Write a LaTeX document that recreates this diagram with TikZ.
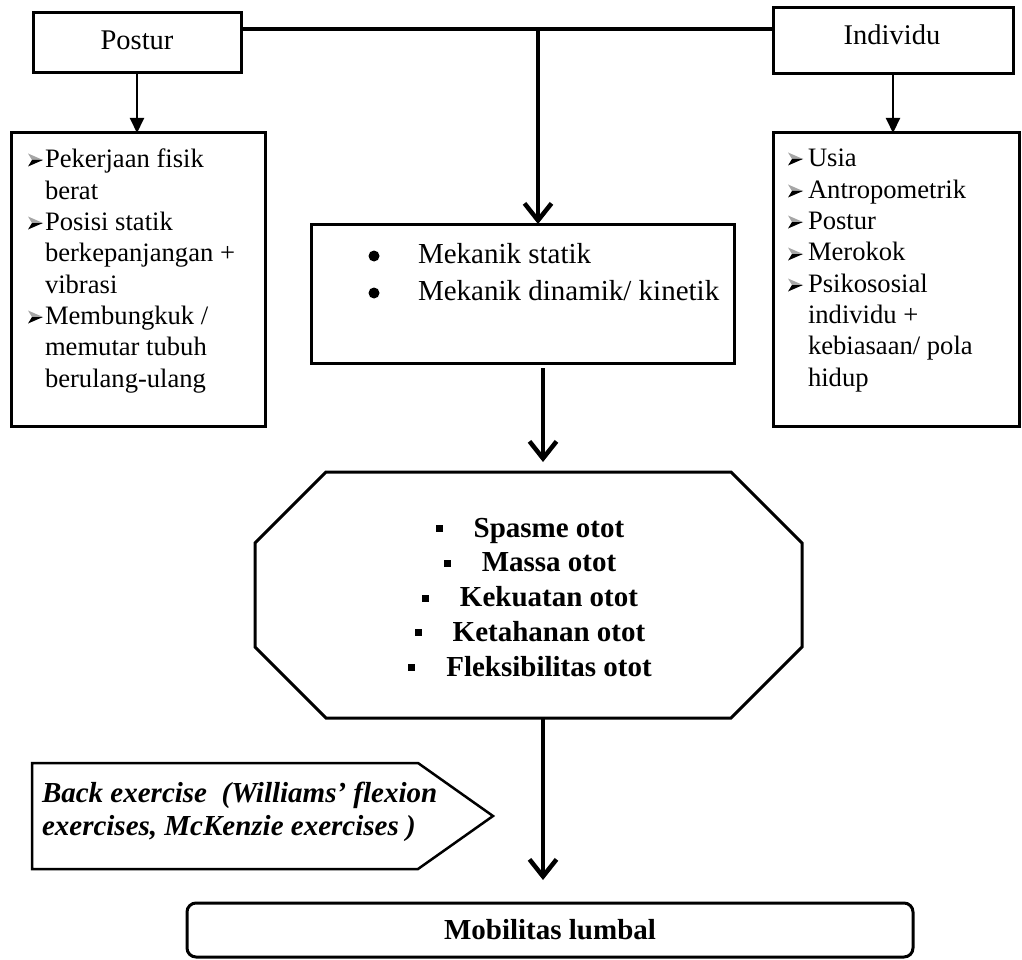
\documentclass[tikz,border=0pt]{standalone}
\usepackage{fontspec}
\setmainfont{Liberation Serif}
\usetikzlibrary{arrows.meta,calc}
\newcommand{\mysq}{\rule[5pt]{7pt}{7pt}\hspace{31pt}}
\begin{document}
\begin{tikzpicture}[x=1pt,y=-1pt,
  box/.style={draw, line width=3pt, inner sep=0pt, outer sep=0pt},
  holder/.style={inner sep=0pt, outer sep=0pt},
  thinarr/.style={line width=2pt, -{Triangle[length=15pt,width=14pt]}},
  bigarr/.style={line width=4.5pt, -{Straight Barb[length=17pt,width=27pt]}},
  thickline/.style={line width=4.5pt},
  txt/.style={inner sep=0pt, outer sep=0pt},
  regtext/.style={font=\fontsize{26.6}{31.3}\selectfont},
  arrbul/.pic={
    \fill[black!35] (0,-6.5) -- (15,0) -- (4,0) -- cycle;
    \fill[black] (0,6.5) -- (15,0) -- (4,0) -- cycle;
  }
]
\useasboundingbox (0,0) rectangle (1022,960);
\fill[white] (0,0) rectangle (1022,960);

% boxes
\node[box, minimum width=208pt, minimum height=60pt] (postur) at (137,43) {};
\node[txt, anchor=base, font=\fontsize{28.5}{34}\selectfont] (posturT) at (137,50) {Postur};
\node[box, minimum width=240pt, minimum height=66pt] (indiv) at (893,41) {};
\node[txt, anchor=base, font=\fontsize{28.5}{34}\selectfont] (indivT) at (892,45) {Individu};

\node[box, minimum width=254pt, minimum height=293pt] (lbox) at (138,279.5) {};
\node[box, minimum width=246pt, minimum height=293pt] (rbox) at (896,279.5) {};
\node[box, minimum width=423pt, minimum height=139pt] (mid) at (522.5,293.5) {};

% octagon
\node[holder, minimum width=547pt, minimum height=246pt] (oct) at (528.5,595) {};
\draw[line width=3pt]
  ($(oct.north west)+(71,0)$) -- ($(oct.north east)+(-71,0)$) --
  ($(oct.north east)+(0,71)$) -- ($(oct.south east)+(0,-71)$) --
  ($(oct.south east)+(-71,0)$) -- ($(oct.south west)+(71,0)$) --
  ($(oct.south west)+(0,-71)$) -- ($(oct.north west)+(0,71)$) -- cycle;

% back exercise pentagon
\node[holder, minimum width=461pt, minimum height=106pt] (bex) at (262.5,816) {};
\draw[line width=2.5pt] (bex.north west) -- ($(bex.north east)+(-75,0)$) -- (bex.east)
  -- ($(bex.south east)+(-75,0)$) -- (bex.south west) -- cycle;

% bottom box
\node[box, rounded corners=9pt, minimum width=726pt, minimum height=54pt,
  font=\fontsize{29}{34}\selectfont\bfseries] (mob) at (550,930) {Mobilitas lumbal};

% connectors
\coordinate (j) at (538,29);
\coordinate (k) at (543,0);
\draw[thickline] (postur.east |- j) -- (indiv.west |- j);
\draw[bigarr] (j) -- (j |- mid.north);
\draw[thinarr] (postur.south) -- (postur.south |- lbox.north);
\draw[thinarr] (indiv.south) -- (indiv.south |- rbox.north);
\draw[bigarr, shorten <=5pt, shorten >=10pt] (k |- mid.south) -- (k |- oct.north);
\draw[bigarr, shorten >=23pt] (k |- oct.south) -- (k |- mob.north);

% left box text
\node[txt, anchor=base west, regtext] (lT) at (45,168) {\begin{tabular}[t]{@{}l@{}}
Pekerjaan fisik\\ berat\\ Posisi statik\\ berkepanjangan +\\ vibrasi\\
Membungkuk /\\ memutar tubuh\\ berulang-ulang\end{tabular}};
\path (28,160) pic {arrbul};
\path (28,223) pic {arrbul};
\path (28,317) pic {arrbul};

% right box text
\node[txt, anchor=base west, regtext] (rT) at (808,167) {\begin{tabular}[t]{@{}l@{}}
Usia\\ Antropometrik\\ Postur\\ Merokok\\ Psikososial\\ individu +\\
kebiasaan/ pola\\ hidup\end{tabular}};
\path (788,159) pic {arrbul};
\path (788,191) pic {arrbul};
\path (788,222) pic {arrbul};
\path (788,254) pic {arrbul};
\path (788,285) pic {arrbul};

% middle box text
\node[txt, anchor=base west, font=\fontsize{29}{37}\selectfont] (mT) at (418,263) {\begin{tabular}[t]{@{}l@{}}
Mekanik statik\\ Mekanik dinamik/ kinetik\end{tabular}};
\fill (374,256) circle (5.5pt);
\fill (374,293) circle (5.5pt);

% octagon text
\node[txt, anchor=base, font=\fontsize{29}{34.8}\selectfont\bfseries] (oT) at (530,537) {\begin{tabular}[t]{@{}c@{}}
\mysq Spasme otot\\ \mysq Massa otot\\ \mysq Kekuatan otot\\ \mysq Ketahanan otot\\
\mysq Fleksibilitas otot\end{tabular}};

% back exercise text
\node[txt, anchor=base west, font=\fontsize{29}{33}\selectfont\bfseries\itshape] (bT) at (42,802) {\begin{tabular}[t]{@{}l@{}}
Back exercise\ \ (Williams’ flexion\\ exercises, McKenzie exercises )\end{tabular}};
\end{tikzpicture}
\end{document}
